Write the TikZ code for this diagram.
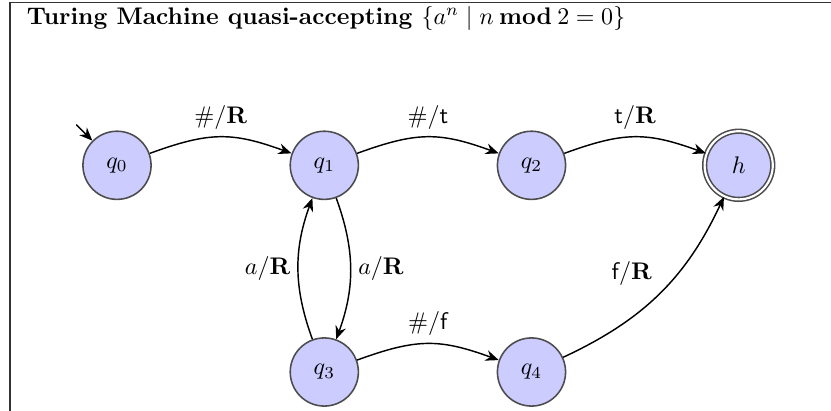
\documentclass[tikz,border=0pt]{standalone}
\usetikzlibrary{arrows.meta}
\begin{document}
\begin{tikzpicture}[x=0.41667pt,y=-0.41667pt,
  stateb/.style={circle, fill=blue!20, draw=black!70, line width=0.65pt, minimum size=28.4pt, inner sep=0pt},
  acc/.style={stateb, double=white, double distance=0.9pt, minimum size=28.4pt},
  tr/.style={-{Stealth[length=5.5pt,width=4.5pt]}, line width=0.6pt, black},
  lab/.style={inner sep=3pt},
  frame/.style={line width=0.6pt, black!80}]
\useasboundingbox (0,0) rectangle (831,411);
\draw[frame] (10,411) -- (10,2.7) -- (831,2.7);
\node[anchor=base west, inner sep=0pt, font=\bfseries] (title) at (26.5,24.5)
  {Turing Machine quasi-accepting $\{a^n\mid n\mathbin{\mathbf{mod}}2=0\}$};
\node[stateb] (q0) at (117,165.3) {$q_0$};
\node[stateb] (q1) at (324.3,165.3) {$q_1$};
\node[stateb] (q2) at (531.5,165.3) {$q_2$};
\node[acc] (h) at (738.7,165.3) {$h$};
\node[stateb] (q3) at (324.3,372) {$q_3$};
\node[stateb] (q4) at (531.5,372) {$q_4$};
\path (q0.135) ++(-16,-16) coordinate (init);
\draw[tr] (init) -- (q0);
\draw[tr] (q0) to[bend left=20, looseness=1.15] node[lab, above] {$\#/\mathbf{R}$} (q1);
\draw[tr] (q1) to[bend left=20, looseness=1.15] node[lab, above] {$\#/\textsf{t}$} (q2);
\draw[tr] (q2) to[bend left=20, looseness=1.15] node[lab, above] {$\textsf{t}/\mathbf{R}$} (h);
\draw[tr] (q1) to[bend left=20] node[lab, right] {$a/\mathbf{R}$} (q3);
\draw[tr] (q3) to[bend left=20] node[lab, left] {$a/\mathbf{R}$} (q1);
\draw[tr] (q3) to[bend left=20, looseness=1.15] node[lab, above] {$\#/\textsf{f}$} (q4);
\draw[tr] (q4) to[bend right=20] node[lab, above left] {$\textsf{f}/\mathbf{R}$} (h);
\end{tikzpicture}
\end{document}
